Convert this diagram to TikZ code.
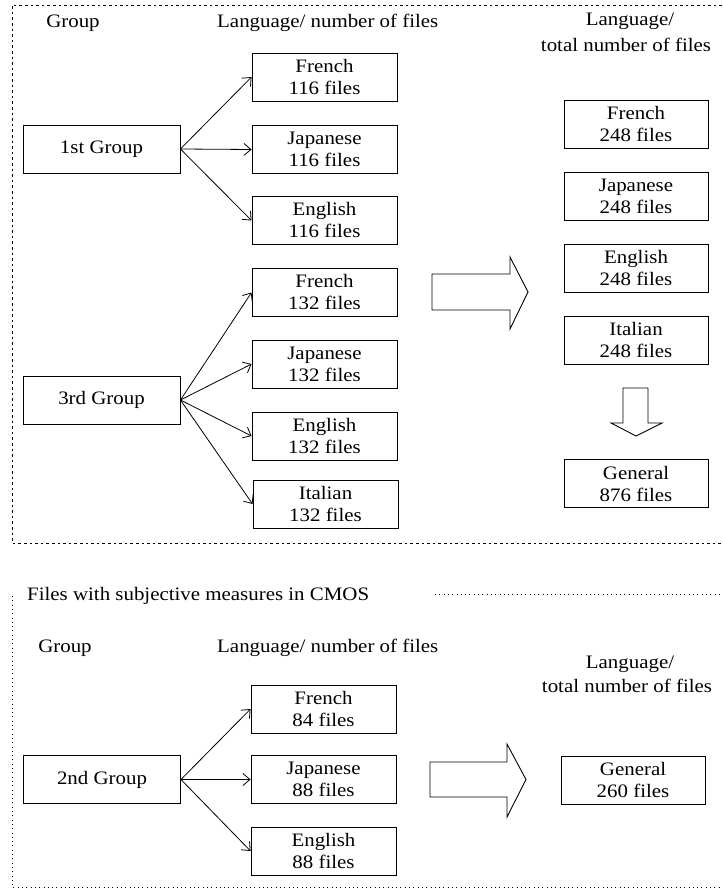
\documentclass[tikz,border=0pt]{standalone}
\usepackage{fontspec}
\setmainfont[FakeStretch=1.1]{Liberation Serif}
\usetikzlibrary{arrows.meta}
\begin{document}
\begin{tikzpicture}[x=1pt,y=-1pt,
  every node/.style={font=\fontsize{19}{22}\selectfont, inner sep=0pt},
  box/.style={draw, line width=0.9pt, align=center, minimum height=48pt},
  lbox/.style={box, minimum width=145pt},
  rbox/.style={box, minimum width=144pt},
  gbox/.style={box, minimum width=157pt},
  conn/.style={line width=0.8pt, -{Straight Barb[length=7pt,width=12pt]}},
  bigarrow/.style={draw, line width=0.9pt, fill=white},
  frameA/.style={line width=0.8pt, dash pattern=on 2.6pt off 3pt},
  frameB/.style={line width=0.7pt, dash pattern=on 1pt off 3.3pt},
  head/.style={anchor=base}
]
\useasboundingbox (0,0) rectangle (722,890);

% ---------- top frame ----------
\draw[frameA] (722,5) -- (12,5) -- (12,543) -- (722,543);

\node[head] (hg1) at (73,28) {Group};
\node[head, anchor=base west] (hl1) at (217,28) {Language/ number of files};
\node[head] (ht1a) at (630,26) {Language/};
\node[head] (ht1b) at (626,52) {total number of files};

\node[gbox] (g1) at (101.5,149) {1st Group};
\node[gbox] (g3) at (101.5,400) {3rd Group};

\node[lbox] (f1) at (324.5,77) {French\\116 files};
\node[lbox] (j1) at (324.5,149.5) {Japanese\\116 files};
\node[lbox] (e1) at (324.5,220.5) {English\\116 files};
\node[lbox] (f3) at (324.5,292.5) {French\\132 files};
\node[lbox] (j3) at (324.5,364) {Japanese\\132 files};
\node[lbox] (e3) at (324.5,436) {English\\132 files};
\node[lbox] (i3) at (325.5,504) {Italian\\132 files};

\node[rbox] (fr) at (636,124.5) {French\\248 files};
\node[rbox] (jr) at (636,196.5) {Japanese\\248 files};
\node[rbox] (er) at (636,268) {English\\248 files};
\node[rbox] (ir) at (636,340) {Italian\\248 files};
\node[rbox] (gr) at (636,483.5) {General\\876 files};

\foreach \t in {f1,j1,e1} \draw[conn] (g1.east) -- (\t.west);
\foreach \t in {f3,j3,e3,i3} \draw[conn] (g3.east) -- (\t.west);

\draw[bigarrow] (432,274) -- (510,274) -- (510,257) -- (528,292) -- (510,329) -- (510,310) -- (432,310) -- cycle;
\draw[bigarrow] (623,388) -- (648,388) -- (648,423) -- (662,423) -- (636,436) -- (611,423) -- (623,423) -- cycle;

% ---------- bottom frame ----------
\node[head, anchor=base west] (sub) at (27,600) {Files with subjective measures in CMOS};
\draw[frameB] (435,594) -- (722,594);
\draw[frameB] (12,596) -- (12,887) -- (722,887);

\node[head] (hg2) at (65,652) {Group};
\node[head, anchor=base west] (hl2) at (217,652) {Language/ number of files};
\node[head] (ht2a) at (630,668) {Language/};
\node[head] (ht2b) at (627,692) {total number of files};

\node[gbox] (g2) at (102,779.5) {2nd Group};
\node[lbox] (f2) at (323.5,709) {French\\84 files};
\node[lbox] (j2) at (323.5,779.5) {Japanese\\88 files};
\node[lbox] (e2) at (323.5,851) {English\\88 files};
\node[rbox] (gen2) at (633,780) {General\\260 files};

\foreach \t in {f2,j2,e2} \draw[conn] (g2.east) -- (\t.west);

\draw[bigarrow] (430,762) -- (507,762) -- (507,744) -- (526,779.5) -- (507,817) -- (507,797) -- (430,797) -- cycle;
\end{tikzpicture}
\end{document}
